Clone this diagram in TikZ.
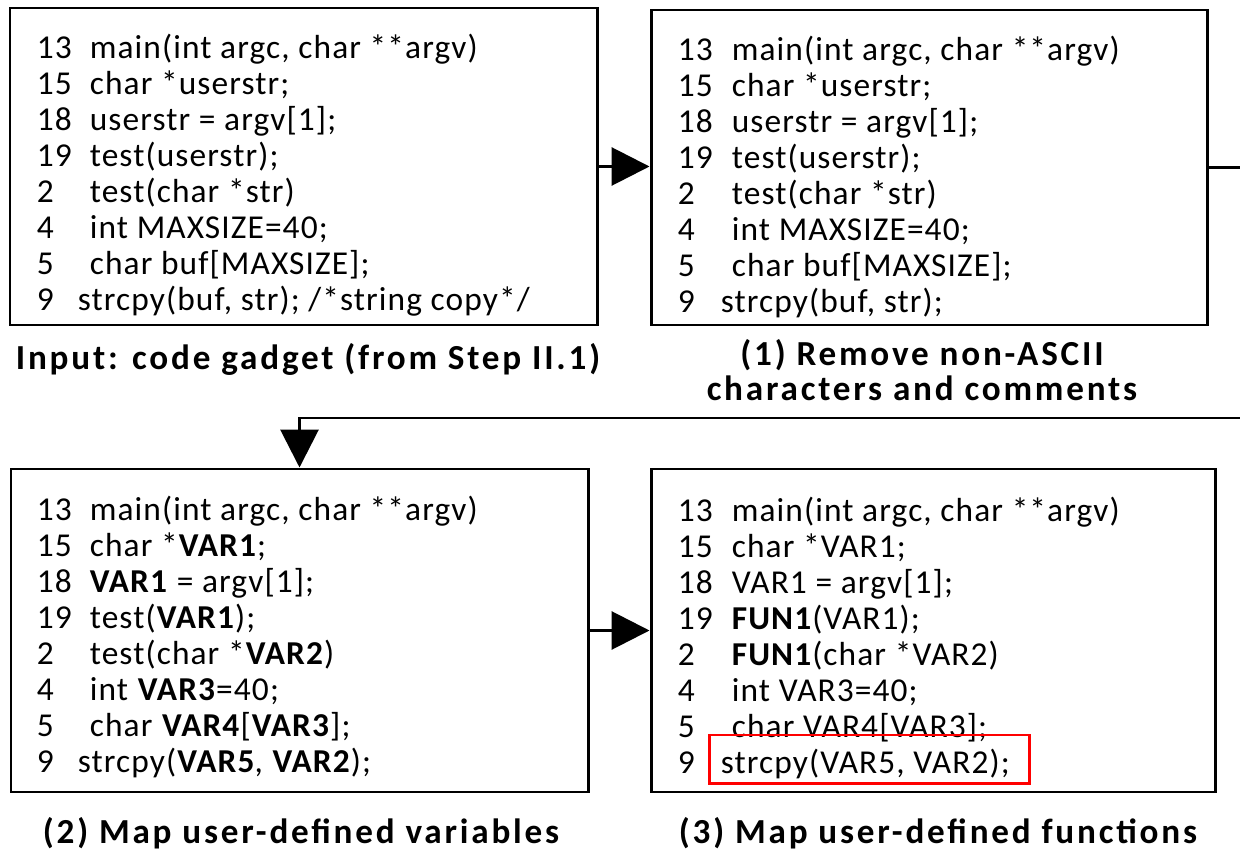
\documentclass[tikz,border=0pt]{standalone}
\usepackage{fontspec}
\setmainfont{Carlito}
\usetikzlibrary{arrows.meta}
\usetikzlibrary{positioning}

\begin{document}
\begin{tikzpicture}[
    codebox/.style={rectangle, draw, line width=1.7pt, inner sep=0pt},
    code/.style={inner sep=0pt, font=\fontsize{19}{20.5}\selectfont\addfontfeatures{LetterSpace=3.3}},
    caption/.style={inner sep=0pt, font=\fontsize{20}{19.9}\selectfont\bfseries\addfontfeatures{LetterSpace=8}, align=center, anchor=base},
    arrow/.style={-{Triangle[length=0.76cm,width=0.76cm]}, line width=1.7pt},
    hlbox/.style={rectangle, draw=red, line width=1.7pt, inner sep=0pt},
    ]

    \useasboundingbox (0,0) rectangle (24.8,17.08);

    % Input gadget
    \node [codebox, minimum width=11.74cm, minimum height=6.34cm] (b1) at (6.07,13.75) {};
    \node [code, below right=0.53cm and 0.56cm of b1.north west] (c1) {%
      \begin{tabular}{@{}p{1.06cm}@{}l@{}}
        13 & main(int argc, char **argv)\\
        15 & char *userstr;\\
        18 & userstr = argv[1];\\
        19 & test(userstr);\\
        2  & test(char *str)\\
        4  & int MAXSIZE=40;\\
        5  & char buf[MAXSIZE];\\
        9  & \hspace{-0.24cm}strcpy(buf, str); /*string copy*/
      \end{tabular}};
    \node [caption] (t1) at (6.16,9.68) {Input: code gadget (from Step II.1)};

    % (1) Remove non-ASCII
    \node [codebox, minimum width=11.12cm, minimum height=6.30cm] (b2) at (18.58,13.73) {};
    \node [code, below right=0.53cm and 0.56cm of b2.north west] (c2) {%
      \begin{tabular}{@{}p{1.08cm}@{}l@{}}
        13 & main(int argc, char **argv)\\
        15 & char *userstr;\\
        18 & userstr = argv[1];\\
        19 & test(userstr);\\
        2  & test(char *str)\\
        4  & int MAXSIZE=40;\\
        5  & char buf[MAXSIZE];\\
        9  & \hspace{-0.22cm}strcpy(buf, str);
      \end{tabular}};
    \node [caption] (t2) at (18.44,9.08) {(1) Remove non-ASCII\\characters and comments};

    % (2) Map variables
    \node [codebox, minimum width=11.54cm, minimum height=6.46cm] (b3) at (5.99,4.47) {};
    \node [code, below right=0.55cm and 0.54cm of b3.north west] (c3) {%
      \begin{tabular}{@{}p{1.06cm}@{}l@{}}
        13 & main(int argc, char **argv)\\
        15 & char *\textbf{VAR1};\\
        18 & \textbf{VAR1} = argv[1];\\
        19 & test(\textbf{VAR1});\\
        2  & test(char *\textbf{VAR2})\\
        4  & int \textbf{VAR3}=40;\\
        5  & char \textbf{VAR4}[\textbf{VAR3}];\\
        9  & \hspace{-0.24cm}strcpy(\textbf{VAR5}, \textbf{VAR2});
      \end{tabular}};
    \node [caption] (t3) at (6.02,0.22) {(2) Map user-defined variables};

    % (3) Map functions
    \node [codebox, minimum width=11.28cm, minimum height=6.46cm] (b4) at (18.66,4.47) {};
    \node [code, below right=0.56cm and 0.56cm of b4.north west] (c4) {%
      \begin{tabular}{@{}p{1.08cm}@{}l@{}}
        13 & main(int argc, char **argv)\\
        15 & char *VAR1;\\
        18 & VAR1 = argv[1];\\
        19 & \textbf{FUN1}(VAR1);\\
        2  & \textbf{FUN1}(char *VAR2)\\
        4  & int VAR3=40;\\
        5  & char VAR4[VAR3];\\
        9  & \hspace{-0.22cm}strcpy(VAR5, VAR2);
      \end{tabular}};
    \node [caption] (t4) at (18.76,0.22) {(3) Map user-defined functions};
    \node [hlbox, minimum width=6.40cm, minimum height=0.96cm] (hl) at (17.38,1.90) {};

    % connectors
    \coordinate (turn) at (24.95,8.72);
    \draw [arrow] (b1.east) -- (b1.east -| b2.west);
    \draw [arrow] (b2.east) -| (turn) -| (b3.north);
    \draw [arrow] (b3.east) -- (b3.east -| b4.west);

\end{tikzpicture}
\end{document}
